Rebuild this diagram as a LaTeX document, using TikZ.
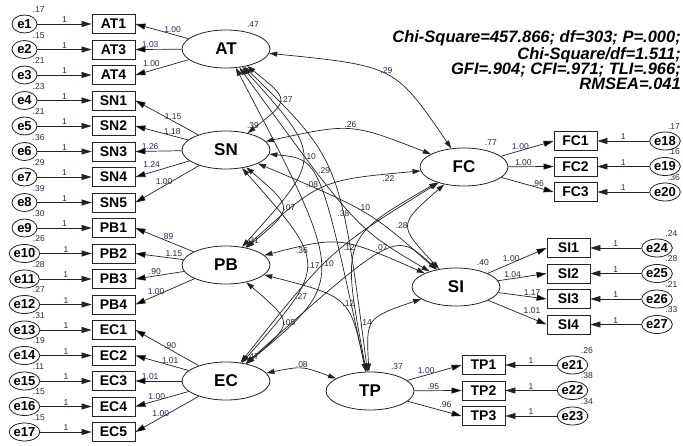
\documentclass[tikz,border=0pt]{standalone}
\usepackage{fontspec}
\setmainfont{Liberation Sans}
\usetikzlibrary{arrows.meta,positioning,shapes.geometric}

\definecolor{numcol}{RGB}{40,40,75}
\definecolor{edgecol}{RGB}{35,35,35}

\tikzset{
  obs/.style={draw=edgecol, line width=0.8pt, rectangle, minimum width=43pt, minimum height=19pt,
    inner sep=0pt, font=\fontsize{14}{14}\selectfont\bfseries},
  err/.style={draw=edgecol, line width=0.8pt, ellipse, minimum width=25pt, minimum height=18pt,
    inner sep=0pt, font=\fontsize{13}{13}\selectfont\bfseries},
  lat/.style={draw=edgecol, line width=0.8pt, ellipse, minimum width=88pt, minimum height=38pt,
    inner sep=0pt, font=\fontsize{17}{17}\selectfont\bfseries},
  num/.style={font=\fontsize{8.5}{8.5}\selectfont, text=numcol, inner sep=1pt},
  evar/.style={label={[num,label distance=2pt]55:#1}},
  evaredge/.style={label={[num,label distance=1pt]80:#1}},
  lvar/.style={label={[num,label distance=3pt]45:#1}},
  load/.style={draw=edgecol, line width=0.7pt, -{Triangle[length=10pt,width=6pt]}},
  cov/.style={draw=edgecol, line width=0.7pt,
    {Triangle[length=8pt,width=5pt]}-{Triangle[length=8pt,width=5pt]}},
  gof/.style={font=\fontsize{16.5}{15}\selectfont\bfseries\itshape, align=right, inner sep=0pt},
}

\begin{document}
\begin{tikzpicture}[x=1pt, y=-1pt, node distance=25.5pt, on grid]
    \fill[white] (0,0) rectangle (683,446);
    \useasboundingbox (0,0) rectangle (683,446);

    % latent factors
    \node[lat, lvar=.47] (AT) at (226,49) {AT};
    \node[lat, lvar=.39] (SN) at (226,150) {SN};
    \node[lat, lvar=.31] (PB) at (226,265) {PB};
    \node[lat, lvar=.47] (EC) at (226,381) {EC};
    \node[lat, lvar=.77] (FC) at (464,167) {FC};
    \node[lat, lvar=.40] (SI) at (456,287) {SI};
    \node[lat, lvar=.37] (TP) at (370,391) {TP};

    % left column of indicators
    \node[obs] (AT1) at (113.5,24) {AT1};
    \node[obs] (AT3) [below=of AT1] {AT3};
    \node[obs] (AT4) [below=of AT3] {AT4};
    \node[obs] (SN1) [below=of AT4] {SN1};
    \node[obs] (SN2) [below=of SN1] {SN2};
    \node[obs] (SN3) [below=of SN2] {SN3};
    \node[obs] (SN4) [below=of SN3] {SN4};
    \node[obs] (SN5) [below=of SN4] {SN5};
    \node[obs] (PB1) [below=of SN5] {PB1};
    \node[obs] (PB2) [below=of PB1] {PB2};
    \node[obs] (PB3) [below=of PB2] {PB3};
    \node[obs] (PB4) [below=of PB3] {PB4};
    \node[obs] (EC1) [below=of PB4] {EC1};
    \node[obs] (EC2) [below=of EC1] {EC2};
    \node[obs] (EC3) [below=of EC2] {EC3};
    \node[obs] (EC4) [below=of EC3] {EC4};
    \node[obs] (EC5) [below=of EC4] {EC5};

    \node[err, evar=.17] (e1) [left=89pt of AT1] {e1};
    \node[err, evar=.15] (e2) [left=89pt of AT3] {e2};
    \node[err, evar=.21] (e3) [left=89pt of AT4] {e3};
    \node[err, evar=.23] (e4) [left=89pt of SN1] {e4};
    \node[err, evar=.21] (e5) [left=89pt of SN2] {e5};
    \node[err, evar=.36] (e6) [left=89pt of SN3] {e6};
    \node[err, evar=.29] (e7) [left=89pt of SN4] {e7};
    \node[err, evar=.39] (e8) [left=89pt of SN5] {e8};
    \node[err, evar=.30] (e9) [left=89pt of PB1] {e9};
    \node[err, evar=.26] (e10) [left=89pt of PB2] {e10};
    \node[err, evar=.28] (e11) [left=89pt of PB3] {e11};
    \node[err, evar=.27] (e12) [left=89pt of PB4] {e12};
    \node[err, evar=.31] (e13) [left=89pt of EC1] {e13};
    \node[err, evar=.19] (e14) [left=89pt of EC2] {e14};
    \node[err, evar=.11] (e15) [left=89pt of EC3] {e15};
    \node[err, evar=.15] (e16) [left=89pt of EC4] {e16};
    \node[err, evar=.15] (e17) [left=89pt of EC5] {e17};

    % right hand indicators
    \node[obs] (FC1) at (575.5,141) {FC1};
    \node[obs] (FC2) [below=of FC1] {FC2};
    \node[obs] (FC3) [below=of FC2] {FC3};
    \node[obs] (SI1) at (568.5,248) {SI1};
    \node[obs] (SI2) [below=of SI1] {SI2};
    \node[obs] (SI3) [below=of SI2] {SI3};
    \node[obs] (SI4) [below=of SI3] {SI4};
    \node[obs] (TP1) at (483.5,365) {TP1};
    \node[obs] (TP2) [below=of TP1] {TP2};
    \node[obs] (TP3) [below=of TP2] {TP3};

    \node[err, evaredge=.17] (e18) [right=89.5pt of FC1] {e18};
    \node[err, evaredge=.16] (e19) [right=89.5pt of FC2] {e19};
    \node[err, evaredge=.36] (e20) [right=89.5pt of FC3] {e20};
    \node[err, evar=.24] (e24) [right=88.5pt of SI1] {e24};
    \node[err, evar=.28] (e25) [right=88.5pt of SI2] {e25};
    \node[err, evar=.21] (e26) [right=88.5pt of SI3] {e26};
    \node[err, evar=.33] (e27) [right=88.5pt of SI4] {e27};
    \node[err, evar=.26] (e21) [right=89pt of TP1] {e21};
    \node[err, evar=.38] (e22) [right=89pt of TP2] {e22};
    \node[err, evar=.34] (e23) [right=89pt of TP3] {e23};

    % fit indices
    \node[gof, anchor=east] (fit) at (681,60)
        {Chi-Square=457.866; df=303; P=.000;\\Chi-Square/df=1.511;\\GFI=.904; CFI=.971; TLI=.966;\\RMSEA=.041};

    % error terms into indicators
    \draw[load] (e1) -- node[num,above]{1} (AT1);
    \draw[load] (e2) -- node[num,above]{1} (AT3);
    \draw[load] (e3) -- node[num,above]{1} (AT4);
    \draw[load] (e4) -- node[num,above]{1} (SN1);
    \draw[load] (e5) -- node[num,above]{1} (SN2);
    \draw[load] (e6) -- node[num,above]{1} (SN3);
    \draw[load] (e7) -- node[num,above]{1} (SN4);
    \draw[load] (e8) -- node[num,above]{1} (SN5);
    \draw[load] (e9) -- node[num,above]{1} (PB1);
    \draw[load] (e10) -- node[num,above]{1} (PB2);
    \draw[load] (e11) -- node[num,above]{1} (PB3);
    \draw[load] (e12) -- node[num,above]{1} (PB4);
    \draw[load] (e13) -- node[num,above]{1} (EC1);
    \draw[load] (e14) -- node[num,above]{1} (EC2);
    \draw[load] (e15) -- node[num,above]{1} (EC3);
    \draw[load] (e16) -- node[num,above]{1} (EC4);
    \draw[load] (e17) -- node[num,above]{1} (EC5);
    \draw[load] (e18) -- node[num,above]{1} (FC1);
    \draw[load] (e19) -- node[num,above]{1} (FC2);
    \draw[load] (e20) -- node[num,above]{1} (FC3);
    \draw[load] (e24) -- node[num,above]{1} (SI1);
    \draw[load] (e25) -- node[num,above]{1} (SI2);
    \draw[load] (e26) -- node[num,above]{1} (SI3);
    \draw[load] (e27) -- node[num,above]{1} (SI4);
    \draw[load] (e21) -- node[num,above]{1} (TP1);
    \draw[load] (e22) -- node[num,above]{1} (TP2);
    \draw[load] (e23) -- node[num,above]{1} (TP3);

    % factor loadings
    \path[load]
    (AT)
    edge node[num,pos=.3,above]{1.00} (AT1.east)
    edge node[num,pos=.68,above]{1.03} (AT3.east)
    edge node[num,pos=.7,above=2pt]{1.00} (AT4.east)
    (SN)
    edge node[num,pos=.4,above]{1.15} (SN1.east)
    edge node[num,pos=.3,above]{1.18} (SN2.east)
    edge node[num,pos=.68,above]{1.26} (SN3.east)
    edge node[num,pos=.7,above=3pt]{1.24} (SN4.east)
    edge node[num,pos=.55,above]{1.00} (SN5.east)
    (PB)
    edge node[num,pos=.45,above]{.89} (PB1.east)
    edge node[num,pos=.2,above]{1.15} (PB2.east)
    edge node[num,pos=.6,above]{.90} (PB3.east)
    edge node[num,pos=.65,above]{1.00} (PB4.east)
    (EC)
    edge node[num,pos=.45,above]{.90} (EC1.east)
    edge node[num,pos=.35,above]{1.01} (EC2.east)
    edge node[num,pos=.68,above]{1.01} (EC3.east)
    edge node[num,pos=.6,above]{1.00} (EC4.east)
    edge node[num,pos=.6,above]{1.00} (EC5.east)
    (FC)
    edge node[num,pos=.37,above]{1.00} (FC1.west)
    edge node[num,pos=.33,above]{1.00} (FC2.west)
    edge node[num,pos=.7,above]{.96} (FC3.west)
    (SI)
    edge node[num,pos=.4,above]{1.00} (SI1.west)
    edge node[num,pos=.3,above]{1.04} (SI2.west)
    edge node[num,pos=.7,above]{1.17} (SI3.west)
    edge node[num,pos=.75,above=4pt]{1.01} (SI4.west)
    (TP)
    edge node[num,pos=.35,above]{1.00} (TP1.west)
    edge node[num,pos=.4,above]{.95} (TP2.west)
    edge node[num,pos=.7,above=3pt]{.96} (TP3.west);

    % covariances between factors
    \draw[cov] (AT) .. controls (290,100) .. (SN) node[num,pos=.5,right]{.27};
    \draw[cov] (AT) .. controls (395,66) .. (FC) node[num,pos=.5,above]{.29};
    \draw[cov] (AT) .. controls (323,157) .. (PB) node[num,pos=.5,right]{.10};
    \draw[cov] (AT) .. controls (340,160) .. (TP) node[num,pos=.5,above left]{.29};
    \draw[cov] (AT) .. controls (356,228) .. (SI) node[num,pos=.5,left]{.38};
    \draw[cov] (AT) .. controls (347,280) .. (EC) node[num,pos=.5,right]{.10};
    \draw[cov] (SN) .. controls (351,123) .. (FC) node[num,pos=.5,above]{.26};
    \draw[cov] (SN) .. controls (294,208) .. (PB) node[num,pos=.5,right]{.07};
    \draw[cov] (SN) .. controls (320,159) .. (TP) node[num,pos=.5,left]{.08};
    \draw[cov] (SN) .. controls (328,265) .. (EC) node[num,pos=.5,right]{.17};
    \draw[cov] (SN) .. controls (370,211) .. (SI) node[num,pos=.5,above]{.10};
    \draw[cov] (PB) .. controls (294,323) .. (EC) node[num,pos=.5,right]{.05};
    \draw[cov] (PB) .. controls (340,236) .. (SI) node[num,pos=.2,below]{.36};
    \draw[cov] (PB) .. controls (320,180) .. (FC) node[num,pos=.88,below]{.22};
    \draw[cov] (PB) .. controls (350,297) .. (TP) node[num,pos=.5,right]{.12};
    \draw[cov] (EC) .. controls (330,250) .. (FC) node[num,pos=.25,right]{.27};
    \draw[cov] (EC) .. controls (395,231) .. (SI) node[num,pos=.5,above]{.07};
    \draw[cov] (EC) .. controls (302,366) .. (TP) node[num,pos=.5,above]{.08};
    \draw[cov] (FC) .. controls (398,225) .. (SI) node[num,pos=.5,left]{.28};
    \draw[cov] (FC) .. controls (341,238) .. (TP) node[num,pos=.5,left]{.12};
    \draw[cov] (SI) .. controls (366,318) .. (TP) node[num,pos=.5,left]{.14};
\end{tikzpicture}
\end{document}
